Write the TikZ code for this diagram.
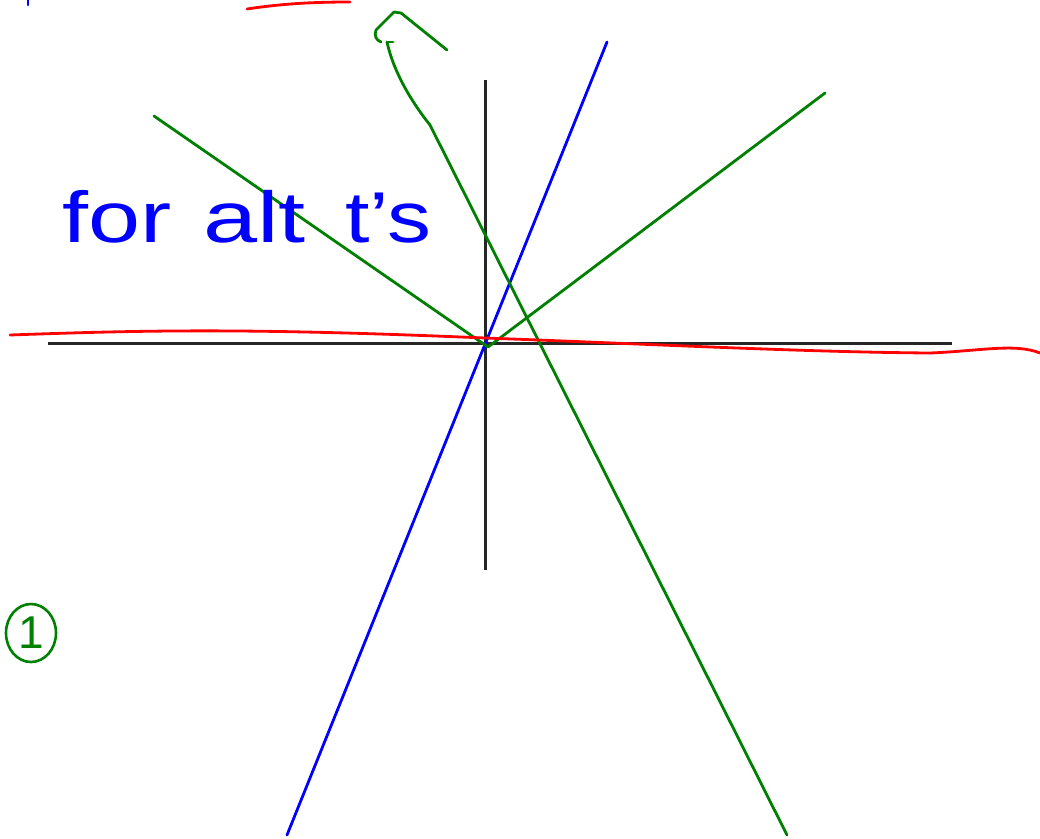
\documentclass[tikz,border=0pt]{standalone}
\usepackage{fontspec}
\setmainfont{Liberation Sans}
\usetikzlibrary{shapes.geometric}
\definecolor{pgreen}{RGB}{0,128,0}
\definecolor{pblue}{RGB}{0,0,255}
\definecolor{pred}{RGB}{255,0,0}
\tikzset{
  axis/.style={line width=3pt, black!85},
  gstroke/.style={line width=2.8pt, pgreen, line cap=round, line join=round},
  bstroke/.style={line width=2.8pt, pblue, line cap=round},
  rstroke/.style={line width=2.8pt, pred, line cap=round},
  hand/.style={pblue, inner sep=0pt, font=\fontsize{72}{80}\selectfont}
}
\begin{document}
\begin{tikzpicture}[x=1pt,y=-1pt]
\useasboundingbox (0,0) rectangle (1040,838);
% axes
\coordinate (xl) at (48,343);
\coordinate (xr) at (952,343);
\coordinate (yt) at (485,80);
\coordinate (yb) at (485,570);
\draw[axis] (xl) -- (xr);
\draw[axis] (yt) -- (yb);
% blue line
\coordinate (b1) at (607,42);
\coordinate (b2) at (287,835);
\draw[bstroke] (b1) -- (b2);
% green V
\coordinate (gl) at (154,116);
\coordinate (gv) at (488,347);
\coordinate (gr) at (825,93);
\draw[gstroke] (gl) -- (gv) -- (gr);
% green long line with hook
\coordinate (gs) at (387,42);
\coordinate (gm) at (430,125);
\coordinate (ge) at (787,835);
\draw[gstroke] (gs) .. controls (393,70) and (410,100) .. (gm) -- (ge);
\draw[gstroke] (387,42) -- (393,42);
\coordinate (h1) at (447,50);
\coordinate (h2) at (401,13);
\coordinate (h3) at (394,12);
\coordinate (h4) at (376,30);
\coordinate (h5) at (381,42);
\draw[gstroke] (h1) -- (h2) -- (h3) -- (h4) .. controls (374,36) and (376,40) .. (h5);
% red line
\coordinate (r1) at (10,335);
\coordinate (r2) at (1040,353);
\draw[rstroke] (r1) .. controls (150,330) and (250,328) .. (485,338)
  .. controls (650,344) and (800,352) .. (930,353)
  .. controls (980,351) and (1015,343) .. (r2);
\coordinate (rt1) at (247,9);
\coordinate (rt2) at (350,2);
\draw[rstroke] (rt1) .. controls (280,4) and (310,2) .. (rt2);
% blue tick top-left
\coordinate (bt1) at (28,0);
\coordinate (bt2) at (28,5);
\draw[bstroke] (bt1) -- (bt2);
% text
\node[hand, anchor=base west] (w1) at (62,242) {\scalebox{1.3}[1]{for}};
\node[hand, anchor=base west] (w2) at (203,242) {\scalebox{1.35}[1]{alt}};
\node[hand, anchor=base west] (w3) at (345,242) {\scalebox{1.22}[1]{t's}};
% circled 1
\node[draw=pgreen, line width=2.6pt, ellipse, minimum width=50pt, minimum height=58pt, inner sep=0pt, pgreen, font=\fontsize{46}{50}\selectfont] (c1) at (31,633) {1};
\end{tikzpicture}
\end{document}
